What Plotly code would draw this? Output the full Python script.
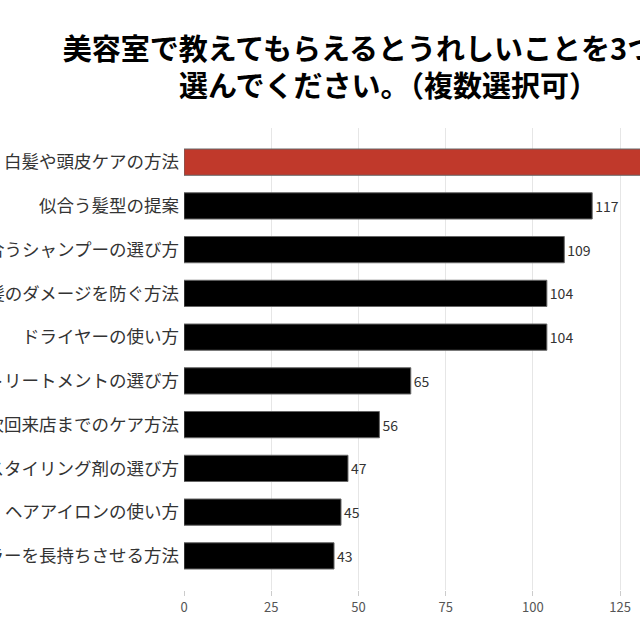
import plotly.graph_objects as go

# 回答項目（上から順）
items = [
    "白髪や頭皮ケアの方法",
    "似合う髪型の提案",
    "自分に合うシャンプーの選び方",
    "髪のダメージを防ぐ方法",
    "ドライヤーの使い方",
    "トリートメントの選び方",
    "次回来店までのケア方法",
    "スタイリング剤の選び方",
    "ヘアアイロンの使い方",
    "カラーを長持ちさせる方法",
]
counts = [150, 117, 109, 104, 104, 65, 56, 47, 45, 43]
bar_colors = ["#c0392b"] + ["#000000"] * 9
x_ticks = [0, 25, 50, 75, 100, 125]

fig = go.Figure(go.Bar(
    x=counts,
    y=items,
    orientation="h",
    marker=dict(color=bar_colors, line=dict(color="#666666", width=1)),
    text=counts,
    textposition="outside",
    constraintext="none",
    textfont=dict(size=14, color="#333333"),
    width=0.6,
))

n = len(items)
fig.update_layout(
    width=640, height=640,
    margin=dict(l=184, r=0, t=128, b=50, autoexpand=False),
    paper_bgcolor="white", plot_bgcolor="white",
    font=dict(family="Noto Sans CJK JP", color="#333333"),
    showlegend=False,
    title=dict(
        text="<b>美容室で教えてもらえるとうれしいことを3つまで<br>選んでください。（複数選択可）</b>",
        font=dict(size=29, color="#000000", family="Noto Sans CJK JP"),
        x=0.607, xanchor="center", xref="container",
        y=0.907, yanchor="top", yref="container",
    ),
)
fig.update_xaxes(
    range=[0, 130.7], tickvals=x_ticks,
    showgrid=True, gridcolor="#e6e6e6", gridwidth=1,
    zeroline=False, showline=False,
    ticks="outside", ticklen=5, tickcolor="#cccccc",
    tickfont=dict(size=13, color="#555555"),
    automargin=False,
)
fig.update_yaxes(
    categoryorder="array", categoryarray=items,
    range=[n - 0.5 + 0.28, -0.5 - 0.28],
    showgrid=False, zeroline=False, showline=False,
    ticks="", ticklabelstandoff=4,
    tickfont=dict(size=17.5, color="#333333"),
    automargin=False,
)

# ページ余白を消して 640x640 にぴったり収める
fig.write_html(
    "out.html",
    config={"displayModeBar": False},
    post_script="document.body.style.margin='0';document.body.style.overflow='hidden';",
)
